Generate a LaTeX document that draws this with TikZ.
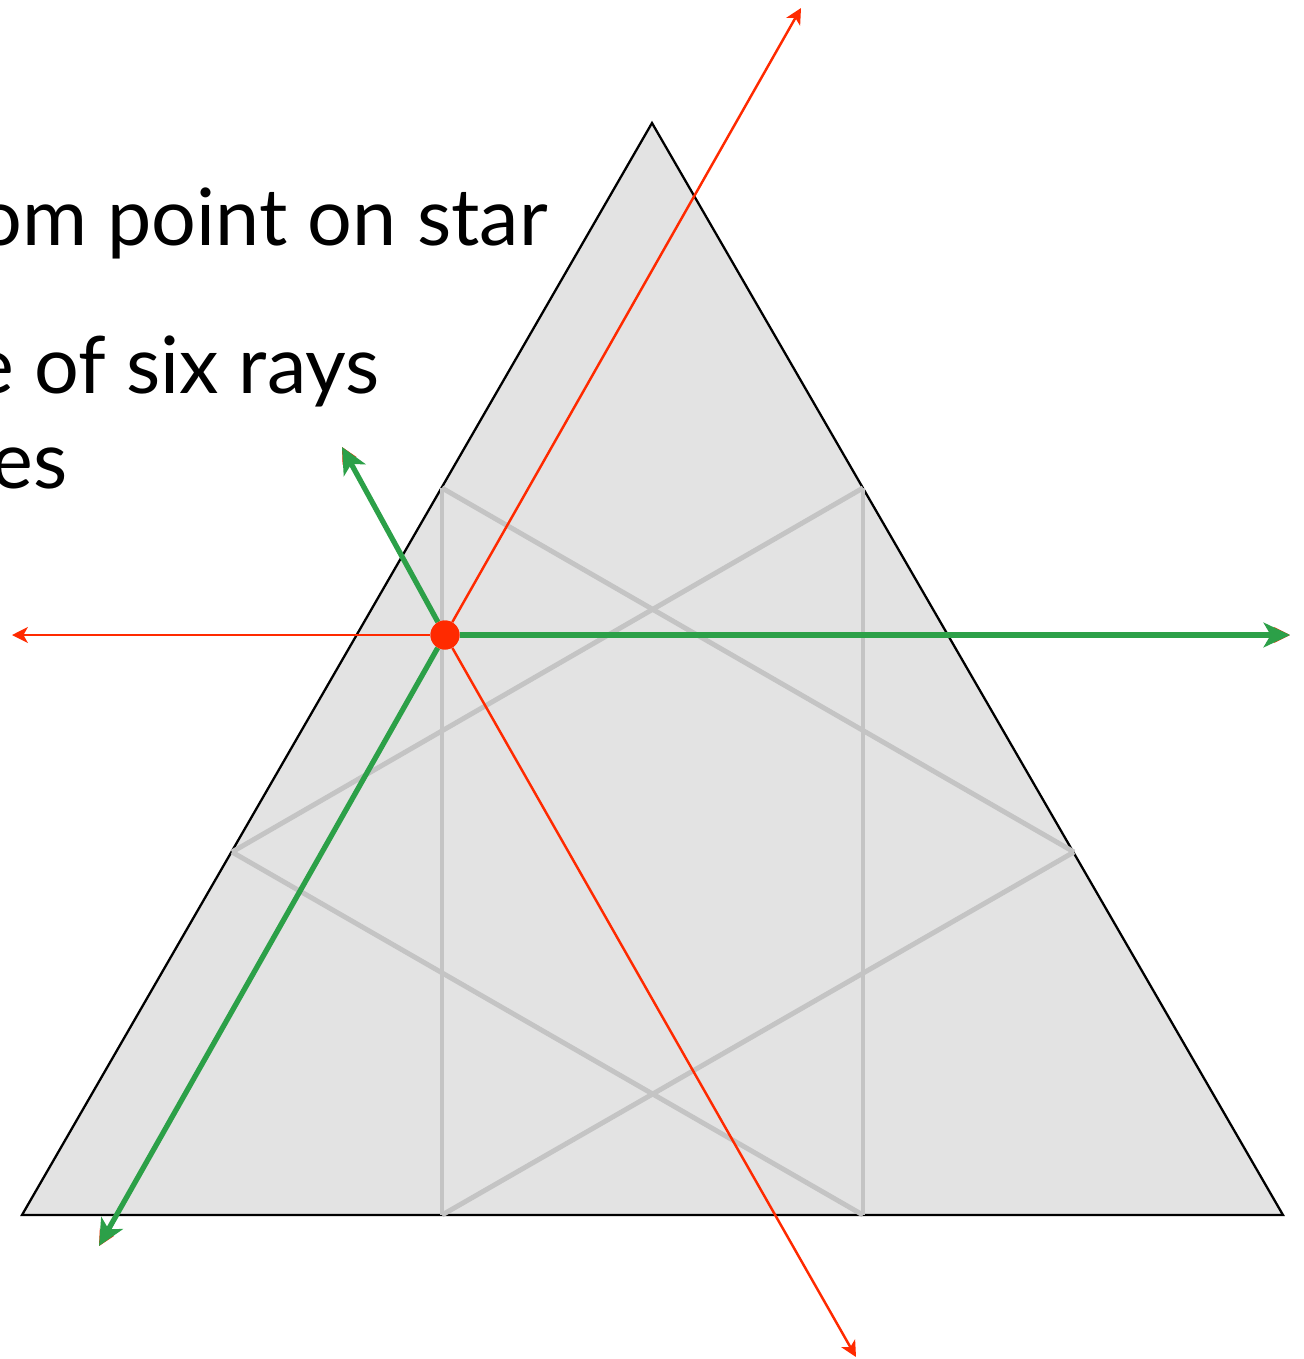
\documentclass[tikz,border=0pt]{standalone}
\usepackage{fontspec}
\setmainfont{Lato}
\usetikzlibrary{arrows.meta}
\definecolor{raygreen}{HTML}{2CA048}
\definecolor{rayred}{HTML}{FF2A00}
\definecolor{trigray}{HTML}{E3E3E3}
\definecolor{stargray}{HTML}{C4C4C4}

\begin{document}
\begin{tikzpicture}[
    x=0.02cm, y=-0.02cm,
    tri/.style={draw=black, line width=1.3pt, fill=trigray, line join=miter},
    starline/.style={draw=stargray, line width=2.8pt},
    redray/.style={draw=rayred, line width=1.4pt, -{Stealth[length=9pt, width=9pt, inset=2.5pt]}},
    greenray/.style={draw=raygreen, line width=3pt, -{Stealth[length=15pt, width=14pt, inset=4pt]}},
    txt/.style={font=\fontsize{45}{54}\selectfont, anchor=base east, inner sep=0pt},
    dot/.style={circle, fill=rayred, inner sep=0pt, minimum size=0.58cm},
  ]
  \useasboundingbox (0,0) rectangle (1304,1359);

  % text
  \node[txt] (l1) at (548,245) {om point on star};
  \node[txt] (l2) at (380,393) {e of six rays};
  \node[txt] (l3) at (68,488) {es};

  % triangle
  \coordinate (A) at (22,1215);
  \coordinate (B) at (1283,1215);
  \coordinate (C) at (652,123);
  \draw[tri] (A) -- (B) -- (C) -- cycle;

  % star
  \coordinate (s1) at (442,488);
  \coordinate (s2) at (863,488);
  \coordinate (s3) at (232,852);
  \coordinate (s4) at (1074,852);
  \coordinate (s5) at (442,1215);
  \coordinate (s6) at (863,1215);
  \draw[starline] (s1) -- (s5);
  \draw[starline] (s2) -- (s6);
  \draw[starline] (s1) -- (s4);
  \draw[starline] (s2) -- (s3);
  \draw[starline] (s3) -- (s6);
  \draw[starline] (s4) -- (s5);

  % rays
  \node[dot] (p) at (445,635) {};
  \coordinate (ul) at (342,447);
  \coordinate (ur) at (801,8);
  \coordinate (l) at (12,635);
  \coordinate (r) at (1290,635);
  \coordinate (dl) at (99,1246);
  \coordinate (dr) at (856,1357);
  \foreach \e in {ul,ur,l,r,dl,dr}
    \draw[redray] (p) -- (\e);
  \foreach \e in {ul,r,dl}
    \draw[greenray] (p) -- (\e);
  \node[dot] at (p) {};
\end{tikzpicture}
\end{document}
